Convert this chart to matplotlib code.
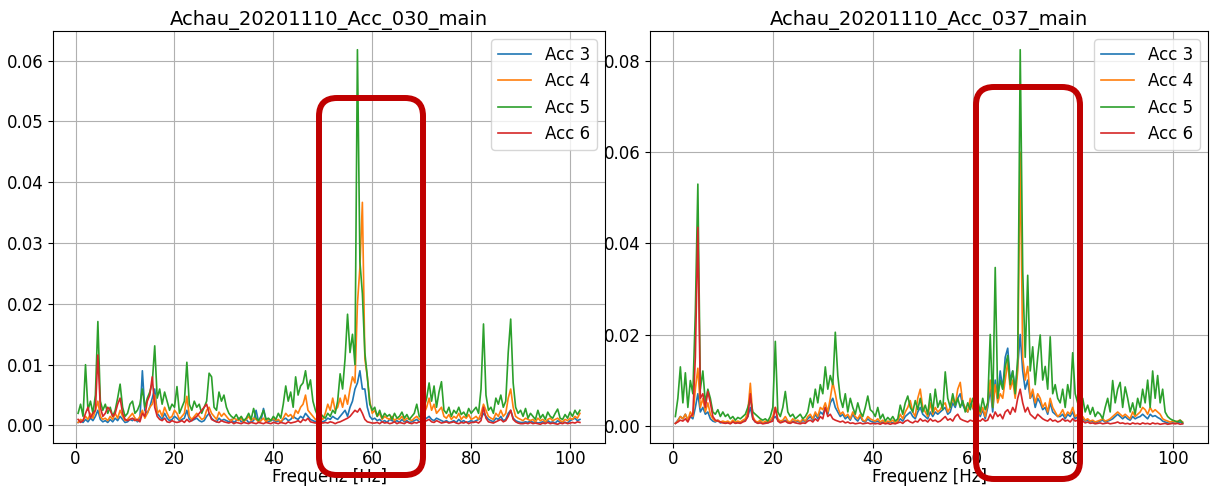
import numpy as np
import matplotlib
matplotlib.use("Agg")
import matplotlib.pyplot as plt
from matplotlib.patches import FancyBboxPatch
from matplotlib.transforms import IdentityTransform

# Frequenzachse (0.5 Hz Raster)
freq = np.arange(1, 205) * 0.5

# Werte in Einheiten von 1e-4
# --- Achau_20201110_Acc_030_main ---
l_acc3 = [5, 8, 5, 10, 6, 12, 8, 15, 25, 10, 6, 8, 5, 10, 6, 12, 8, 15, 10, 5,
          6, 10, 8, 12, 6, 10, 90, 25, 20, 30, 45, 60, 20, 15, 10, 20, 12, 8, 10, 15,
          12, 8, 10, 12, 25, 10, 8, 10, 12, 8, 6, 8, 15, 20, 12, 8, 6, 12, 8, 10,
          8, 6, 10, 5, 8, 12, 6, 8, 10, 5, 6, 8, 25, 6, 8, 28, 10, 6, 8, 10,
          6, 8, 5, 10, 12, 8, 10, 15, 12, 10, 15, 12, 20, 15, 10, 8, 6, 10, 8, 6,
          8, 12, 10, 15, 12, 10, 15, 20, 25, 15, 30, 40, 60, 70, 90, 60, 60, 30, 15, 10,
          12, 8, 10, 6, 8, 5, 10, 8, 6, 8, 5, 10, 6, 8, 5, 6, 8, 10, 6, 8,
          10, 12, 15, 10, 8, 12, 10, 8, 6, 8, 5, 6, 8, 5, 10, 6, 8, 5, 6, 8,
          6, 8, 10, 12, 20, 15, 10, 8, 6, 12, 10, 15, 8, 10, 20, 25, 12, 8, 6, 5,
          5, 6, 5, 8, 5, 6, 4, 5, 6, 5, 8, 5, 6, 4, 8, 5, 6, 5, 4, 8,
          10, 12, 8, 10]
l_acc4 = [5, 10, 8, 15, 10, 20, 12, 25, 40, 15, 10, 12, 8, 15, 10, 20, 12, 25, 15, 8,
          10, 15, 20, 12, 8, 15, 25, 12, 20, 30, 35, 50, 20, 25, 15, 30, 20, 12, 15, 25,
          20, 10, 15, 20, 48, 15, 10, 15, 20, 15, 10, 12, 25, 30, 20, 15, 10, 22, 15, 20,
          15, 10, 8, 12, 10, 8, 12, 6, 10, 15, 8, 12, 10, 6, 8, 12, 6, 10, 8, 12,
          8, 10, 6, 12, 20, 15, 18, 12, 25, 20, 30, 35, 50, 25, 20, 15, 10, 12, 15, 10,
          20, 35, 25, 45, 25, 30, 45, 30, 50, 35, 60, 80, 70, 200, 260, 367, 110, 80, 40, 20,
          25, 15, 20, 10, 15, 12, 10, 15, 8, 12, 10, 15, 8, 12, 10, 8, 12, 15, 10, 12,
          20, 30, 45, 25, 35, 20, 25, 30, 15, 12, 18, 10, 15, 12, 20, 10, 15, 12, 18, 10,
          12, 15, 10, 20, 35, 25, 15, 12, 10, 20, 15, 25, 15, 20, 45, 60, 30, 15, 12, 10,
          8, 12, 10, 8, 10, 6, 12, 8, 10, 6, 10, 12, 8, 10, 12, 8, 6, 10, 8, 12,
          10, 15, 12, 20]
l_acc5 = [20, 35, 15, 100, 25, 40, 20, 50, 171, 40, 25, 35, 20, 30, 15, 25, 45, 68, 30, 15,
          20, 35, 40, 20, 25, 35, 60, 30, 45, 55, 70, 131, 45, 60, 35, 55, 40, 25, 35, 30,
          64, 20, 30, 40, 104, 35, 25, 40, 30, 35, 20, 30, 40, 86, 80, 30, 25, 55, 40, 50,
          30, 20, 15, 12, 18, 10, 15, 8, 12, 20, 10, 28, 12, 8, 15, 25, 10, 12, 8, 15,
          10, 20, 12, 35, 65, 40, 55, 30, 80, 50, 65, 70, 90, 60, 75, 40, 25, 15, 20, 15,
          12, 20, 15, 25, 20, 40, 85, 60, 110, 183, 120, 150, 100, 618, 270, 217, 120, 80, 35, 25,
          30, 15, 25, 12, 20, 15, 18, 10, 20, 12, 15, 22, 12, 18, 10, 15, 20, 35, 15, 12,
          30, 45, 70, 40, 65, 30, 55, 72, 25, 20, 30, 15, 25, 20, 30, 18, 22, 15, 28, 20,
          25, 30, 20, 60, 167, 50, 25, 30, 20, 45, 35, 50, 30, 40, 120, 175, 70, 30, 20, 25,
          15, 28, 12, 20, 15, 10, 25, 12, 18, 10, 22, 15, 12, 20, 27, 12, 10, 18, 12, 22,
          15, 25, 18, 25]
l_acc6 = [10, 5, 8, 20, 30, 12, 20, 25, 116, 30, 15, 20, 30, 25, 15, 20, 35, 45, 20, 10,
          8, 10, 12, 8, 10, 6, 20, 15, 40, 50, 80, 30, 15, 10, 8, 12, 6, 5, 8, 6,
          5, 6, 8, 5, 10, 6, 8, 12, 15, 20, 25, 30, 35, 20, 10, 8, 6, 5, 8, 6,
          5, 4, 6, 3, 5, 4, 3, 5, 4, 3, 5, 4, 3, 5, 4, 3, 5, 4, 3, 5,
          4, 3, 5, 4, 3, 6, 4, 5, 6, 8, 5, 10, 8, 12, 6, 5, 4, 6, 5, 4,
          5, 4, 6, 5, 3, 5, 6, 8, 10, 12, 15, 20, 25, 22, 28, 20, 10, 6, 5, 4,
          4, 5, 3, 6, 4, 5, 3, 4, 6, 3, 5, 4, 3, 6, 4, 3, 5, 4, 6, 5,
          6, 8, 10, 6, 5, 8, 6, 4, 5, 6, 4, 5, 6, 4, 3, 5, 4, 6, 3, 5,
          5, 6, 4, 8, 30, 12, 6, 5, 4, 6, 8, 10, 6, 8, 15, 25, 10, 6, 4, 3,
          3, 4, 3, 5, 3, 4, 3, 2, 4, 3, 5, 3, 4, 3, 2, 4, 3, 5, 3, 4,
          5, 4, 6, 5]

# --- Achau_20201110_Acc_037_main ---
r_acc3 = [5, 12, 20, 15, 25, 12, 20, 15, 40, 70, 30, 40, 25, 30, 15, 10, 8, 12, 6, 8,
          6, 8, 5, 10, 6, 8, 6, 10, 12, 20, 40, 15, 8, 6, 10, 5, 8, 6, 10, 15,
          20, 12, 8, 10, 12, 8, 6, 10, 8, 10, 6, 12, 8, 15, 20, 12, 25, 15, 30, 25,
          40, 25, 50, 60, 40, 30, 20, 25, 15, 20, 12, 25, 15, 10, 20, 10, 8, 15, 10, 8,
          8, 10, 6, 8, 5, 6, 8, 6, 5, 8, 15, 10, 20, 25, 30, 20, 15, 30, 40, 25,
          20, 15, 30, 20, 30, 25, 30, 35, 40, 25, 30, 50, 40, 60, 70, 45, 35, 30, 50, 40,
          25, 40, 20, 35, 15, 40, 80, 30, 100, 60, 120, 80, 150, 170, 100, 120, 80, 130, 200, 120,
          80, 100, 60, 70, 40, 60, 50, 35, 40, 25, 50, 30, 25, 20, 20, 25, 15, 25, 20, 30,
          15, 20, 12, 15, 10, 12, 8, 10, 6, 8, 10, 12, 8, 10, 12, 15, 20, 25, 20, 15,
          20, 15, 12, 20, 15, 18, 20, 25, 20, 15, 25, 20, 22, 18, 15, 10, 8, 6, 5, 6,
          5, 6, 8, 5]
r_acc4 = [5, 10, 20, 15, 25, 12, 30, 20, 80, 126, 40, 60, 30, 50, 25, 15, 10, 12, 8, 10,
          8, 10, 6, 12, 8, 10, 8, 12, 15, 30, 93, 20, 10, 8, 12, 6, 10, 8, 12, 20,
          40, 15, 10, 12, 20, 10, 8, 15, 10, 12, 8, 15, 10, 20, 25, 15, 30, 20, 40, 35,
          50, 30, 60, 95, 70, 40, 25, 30, 20, 25, 15, 30, 20, 15, 25, 12, 10, 20, 15, 12,
          10, 15, 8, 12, 6, 10, 8, 12, 6, 10, 25, 15, 30, 40, 55, 30, 20, 60, 80, 40,
          30, 20, 50, 25, 40, 30, 35, 45, 50, 30, 40, 60, 45, 80, 95, 50, 40, 30, 60, 40,
          30, 45, 25, 40, 20, 50, 100, 40, 90, 50, 70, 60, 100, 140, 80, 100, 60, 120, 600, 150,
          100, 130, 60, 80, 50, 70, 60, 40, 50, 30, 60, 40, 30, 20, 25, 35, 20, 30, 25, 40,
          20, 25, 15, 20, 12, 15, 10, 12, 8, 10, 12, 15, 10, 12, 15, 20, 25, 30, 25, 20,
          25, 20, 15, 30, 20, 25, 30, 40, 35, 25, 40, 30, 35, 30, 25, 15, 12, 10, 8, 10,
          8, 10, 12, 8]
r_acc5 = [20, 60, 129, 50, 116, 40, 99, 70, 250, 530, 80, 120, 50, 80, 60, 30, 25, 35, 20, 30,
          20, 25, 15, 20, 12, 18, 15, 20, 25, 40, 60, 30, 25, 20, 15, 12, 15, 10, 20, 40,
          185, 30, 20, 40, 75, 30, 20, 25, 15, 20, 25, 15, 20, 30, 60, 40, 80, 50, 90, 70,
          129, 80, 110, 90, 205, 110, 60, 40, 70, 30, 60, 40, 25, 50, 30, 20, 40, 65, 35, 30,
          20, 40, 15, 25, 10, 18, 12, 20, 10, 15, 45, 25, 50, 65, 40, 30, 55, 35, 60, 30,
          45, 25, 70, 30, 80, 40, 55, 35, 118, 60, 40, 70, 45, 60, 40, 55, 30, 50, 35, 60,
          40, 55, 30, 60, 35, 50, 200, 40, 347, 60, 100, 80, 130, 154, 90, 120, 70, 150, 825, 340,
          150, 330, 120, 173, 90, 150, 199, 100, 130, 80, 195, 70, 90, 60, 50, 80, 40, 90, 60, 160,
          70, 50, 40, 60, 30, 45, 25, 40, 20, 30, 25, 15, 40, 60, 30, 99, 50, 80, 95, 40,
          85, 60, 30, 50, 25, 60, 40, 80, 50, 100, 40, 120, 60, 110, 50, 80, 30, 20, 15, 12,
          10, 8, 12, 6]
r_acc6 = [5, 8, 12, 10, 15, 8, 20, 25, 150, 435, 60, 70, 40, 75, 50, 20, 12, 10, 8, 6,
          5, 6, 4, 8, 5, 6, 5, 8, 10, 20, 70, 15, 8, 5, 6, 4, 5, 6, 8, 10,
          40, 10, 6, 8, 10, 6, 5, 8, 6, 5, 4, 6, 5, 10, 12, 8, 15, 10, 20, 15,
          40, 20, 25, 15, 12, 10, 8, 10, 6, 8, 5, 6, 4, 5, 6, 4, 5, 6, 4, 5,
          4, 5, 3, 6, 4, 5, 3, 5, 4, 6, 8, 5, 10, 12, 8, 6, 10, 8, 15, 10,
          12, 8, 15, 10, 12, 8, 10, 15, 20, 12, 15, 10, 20, 25, 15, 12, 10, 8, 12, 10,
          8, 12, 10, 15, 10, 12, 25, 15, 30, 20, 25, 15, 30, 35, 25, 40, 30, 60, 80, 50,
          30, 40, 25, 20, 15, 25, 20, 15, 12, 10, 15, 10, 12, 8, 10, 15, 10, 12, 8, 15,
          10, 12, 8, 10, 6, 8, 5, 6, 4, 5, 6, 4, 5, 6, 4, 5, 6, 8, 5, 6,
          4, 5, 3, 6, 4, 5, 3, 6, 4, 5, 3, 6, 4, 5, 3, 4, 5, 3, 4, 5,
          4, 5, 3, 4]

titles = ["Achau_20201110_Acc_030_main", "Achau_20201110_Acc_037_main"]
labels = ["Acc 3", "Acc 4", "Acc 5", "Acc 6"]
colors = ["tab:blue", "tab:orange", "tab:green", "tab:red"]

fig = plt.figure(figsize=(12.11, 4.86), dpi=100)
ax1 = fig.add_axes([53 / 1211, 43 / 486, 552 / 1211, 412 / 486])
ax2 = fig.add_axes([650 / 1211, 43 / 486, 558 / 1211, 412 / 486])

for ax, title, series in [(ax1, titles[0], [l_acc3, l_acc4, l_acc5, l_acc6]),
                          (ax2, titles[1], [r_acc3, r_acc4, r_acc5, r_acc6])]:
    for s, lab, c in zip(series, labels, colors):
        ax.plot(freq, np.array(s) * 1e-4, color=c, lw=1.2, label=lab)
    ax.set_title(title, fontsize=14, pad=4)
    ax.set_xlabel("Frequenz [Hz]", fontsize=12, labelpad=0)
    ax.tick_params(labelsize=12)
    ax.tick_params(axis="x", pad=1.5)
    ax.set_xticks([0, 20, 40, 60, 80, 100])
    ax.grid(True)
    ax.legend(loc="upper right", fontsize=12)

ax2.set_yticks([0.0, 0.02, 0.04, 0.06, 0.08])

# rote Markierungen
for x0, y0, w, h in [(319, 11, 104, 377), (976, 7, 104, 392)]:
    box = FancyBboxPatch((x0, y0), w, h, boxstyle="round,pad=0,rounding_size=18",
                         fill=False, edgecolor="#c00000", linewidth=4.3,
                         transform=IdentityTransform())
    fig.add_artist(box)

fig.savefig("out.png", dpi=100)
